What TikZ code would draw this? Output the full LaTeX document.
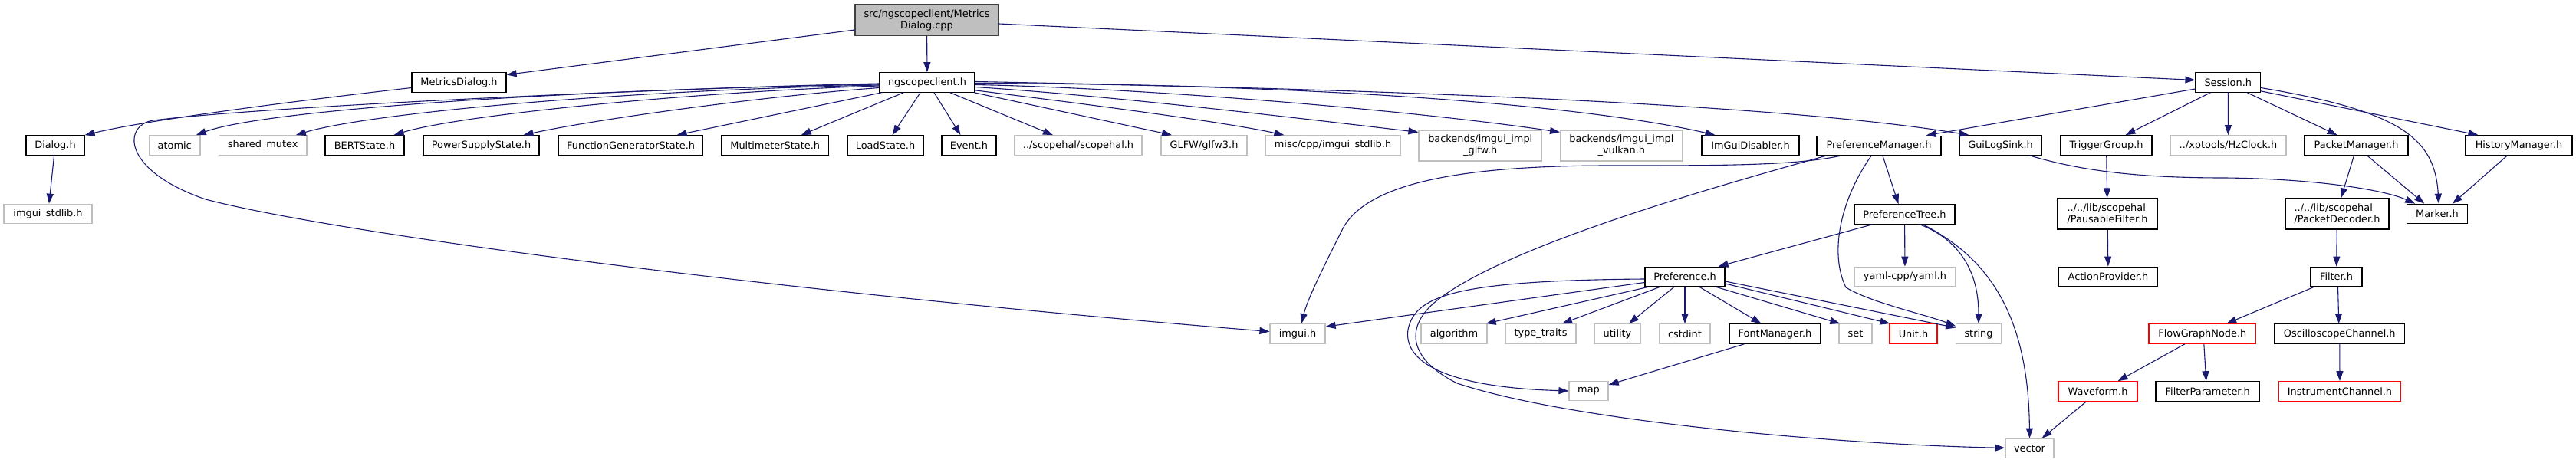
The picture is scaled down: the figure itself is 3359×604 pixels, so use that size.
\documentclass[tikz,border=0pt]{standalone}
\usepackage{fontspec}
\setmainfont{DejaVu Sans}
\usetikzlibrary{arrows.meta,calc}
\definecolor{navy}{RGB}{25,25,112}
\definecolor{grey75}{RGB}{191,191,191}
\definecolor{rootborder}{RGB}{64,64,64}
\newcommand\nodefont{\fontsize{12.9}{15}\selectfont}
\tikzset{
  box/.style={draw, line width=1.2pt, inner sep=0pt, minimum height=25.5pt, align=center, font=\nodefont, fill=white},
  docnode/.style={box, draw=black},
  extnode/.style={box, draw=grey75},
  truncnode/.style={box, draw=red},
  rootnode/.style={box, draw=rootborder, fill=grey75},
  dep/.style={draw=navy, line width=1.1pt, -{Triangle[length=13pt,width=9pt]}},
}
\begin{document}
\begin{tikzpicture}[x=1pt,y=-1pt]
\fill[white] (0,0) rectangle (3359,604);
\useasboundingbox (0,0) rectangle (3359,604);

% ---------- nodes ----------
\node[rootnode, minimum width=187pt, minimum height=40.5pt] (root) at (1208.5,26) {src/ngscopeclient/Metrics\\Dialog.cpp};
\node[docnode, minimum width=123pt] (mdlg) at (598.5,107.5) {MetricsDialog.h};
\node[docnode, minimum width=124pt] (ngc) at (1209,107.5) {ngscopeclient.h};
\node[docnode, minimum width=84.5pt] (sess) at (2905.25,107.5) {Session.h};

\node[docnode, minimum width=76pt] (dlg) at (72,189.5) {Dialog.h};
\node[extnode, minimum width=66.5pt] (atomic) at (227.75,189.5) {atomic};
\node[extnode, minimum width=114.5pt] (smutex) at (342.75,189.5) {shared\_mutex};
\node[docnode, minimum width=103pt] (bert) at (475.5,189.5) {BERTState.h};
\node[docnode, minimum width=151pt] (psu) at (627.5,189.5) {PowerSupplyState.h};
\node[docnode, minimum width=188pt] (fgen) at (822.6,189.5) {FunctionGeneratorState.h};
\node[docnode, minimum width=139.5pt] (mm) at (1010.75,189.5) {MultimeterState.h};
\node[docnode, minimum width=99pt] (load) at (1154.5,189.5) {LoadState.h};
\node[docnode, minimum width=71pt] (event) at (1263.5,189.5) {Event.h};
\node[extnode, minimum width=166pt] (scopehal) at (1406,189.5) {../scopehal/scopehal.h};
\node[extnode, minimum width=112pt] (glfw) at (1570,189.5) {GLFW/glfw3.h};
\node[extnode, minimum width=176pt] (imstd) at (1738,189.5) {misc/cpp/imgui\_stdlib.h};
\node[extnode, minimum width=160.5pt, minimum height=40pt] (bglfw) at (1930.25,190) {backends/imgui\_impl\\\_glfw.h};
\node[extnode, minimum width=159.4pt, minimum height=40pt] (bvk) at (2114.3,190) {backends/imgui\_impl\\\_vulkan.h};
\node[docnode, minimum width=127pt] (imdis) at (2282.5,189.5) {ImGuiDisabler.h};
\node[docnode, minimum width=162pt] (pm) at (2450,190) {PreferenceManager.h};
\node[docnode, minimum width=107pt] (gls) at (2608.5,189.5) {GuiLogSink.h};
\node[docnode, minimum width=119pt] (trig) at (2746.5,189.5) {TriggerGroup.h};
\node[extnode, minimum width=151pt] (hz) at (2905.5,189.5) {../xptools/HzClock.h};
\node[docnode, minimum width=135pt] (pkm) at (3072.5,189.5) {PacketManager.h};
\node[docnode, minimum width=139pt] (hist) at (3284.5,189.5) {HistoryManager.h};

\node[extnode, minimum width=115pt] (imstd2) at (62.5,279) {imgui\_stdlib.h};
\node[docnode, minimum width=131pt] (ptree) at (2483.5,279.5) {PreferenceTree.h};
\node[docnode, minimum width=130pt, minimum height=40pt, align=left] (pausable) at (2748,279) {../../lib/scopehal\\/PausableFilter.h};
\node[docnode, minimum width=135pt, minimum height=40pt, align=left] (pdec) at (3047.5,279) {../../lib/scopehal\\/PacketDecoder.h};
\node[docnode, minimum width=78.5pt] (marker) at (3178,279) {Marker.h};

\node[docnode, minimum width=104pt] (pref) at (2197,361) {Preference.h};
\node[extnode, minimum width=132pt] (yaml) at (2484,361) {yaml-cpp/yaml.h};
\node[docnode, minimum width=129.5pt] (actp) at (2749,361) {ActionProvider.h};
\node[docnode, minimum width=67pt] (filter) at (3046.5,361) {Filter.h};

\node[extnode, minimum width=72pt] (imgui) at (1692,435.5) {imgui.h};
\node[extnode, minimum width=86pt] (algo) at (1896,435.5) {algorithm};
\node[extnode, minimum width=92pt] (tt) at (2009,435.5) {type\_traits};
\node[extnode, minimum width=60pt] (util) at (2109,435.5) {utility};
\node[extnode, minimum width=66pt] (cstd) at (2197,435.5) {cstdint};
\node[docnode, minimum width=119pt] (font) at (2314.5,435.5) {FontManager.h};
\node[extnode, minimum width=43pt] (set) at (2419.5,435.5) {set};
\node[truncnode, minimum width=62pt] (unit) at (2495,435.5) {Unit.h};
\node[extnode, minimum width=58.5pt] (string) at (2580,435.5) {string};
\node[truncnode, minimum width=139.6pt] (fgn) at (2871.8,435.5) {FlowGraphNode.h};
\node[docnode, minimum width=169.5pt] (osc) at (3050.75,435.5) {OscilloscopeChannel.h};

\node[extnode, minimum width=51pt] (map) at (2071.5,510) {map};
\node[truncnode, minimum width=103pt] (wave) at (2735.5,510.5) {Waveform.h};
\node[docnode, minimum width=135.5pt] (fparam) at (2878.75,510.5) {FilterParameter.h};
\node[truncnode, minimum width=159pt] (ichan) at (3051,510.5) {InstrumentChannel.h};

\node[extnode, minimum width=63pt] (vector) at (2646.5,585) {vector};

% ---------- edges ----------
% root
\draw[dep] (root) -- (ngc);
\draw[dep] ($(root.west)+(0,13)$) -- ($(mdlg.east)+(0,-10)$);
\draw[dep] ($(root.east)+(0,5)$) -- ($(sess.west)+(0,-3)$);

% MetricsDialog / Dialog
\draw[dep] ($(mdlg.west)+(0,7)$) .. controls (400,130) and (200,155) .. (dlg.north east);
\draw[dep] (dlg) -- (imstd2);

% ngscopeclient.h, left fan
\draw[dep] ($(ngc.west)+(0,1.5)$) .. controls (900,114) and (350,138) .. (200,157)
  .. controls (160,163) and (158,222) .. (268,260)
  .. controls (420,300) and (950,375) .. (imgui);
\draw[dep] ($(ngc.west)+(0,2.5)$) .. controls (700,118) and (340,145) .. ($(atomic.north)+(28,0)$);
\draw[dep] ($(ngc.west)+(0,3.5)$) .. controls (800,118) and (480,148) .. ($(smutex.north)+(43,0)$);
\draw[dep] ($(ngc.west)+(0,4.5)$) .. controls (900,120) and (600,150) .. ($(bert.north)+(38,0)$);
\draw[dep] ($(ngc.west)+(0,7)$) .. controls (1000,125) and (780,155) .. ($(psu.north)+(55,0)$);
\draw[dep] ($(ngc.south west)+(3,0)$) -- ($(fgen.north)+(60,0)$);
\draw[dep] ($(ngc.south)+(-31,0)$) -- ($(mm.north)+(34,0)$);
\draw[dep] ($(ngc.south)+(-9,0)$) -- ($(load.north)+(9,0)$);
\draw[dep] ($(ngc.south)+(9,0)$) -- ($(event.north)+(-11,0)$);
\draw[dep] ($(ngc.south)+(30,0)$) -- ($(scopehal.north)+(-33,0)$);
% ngscopeclient.h, right fan
\draw[dep] ($(ngc.south east)+(-1,0)$) -- ($(glfw.north)+(-42,0)$);
\draw[dep] ($(ngc.south east)+(0,-3)$) .. controls (1450,140) and (1600,160) .. ($(imstd.north west)+(25,0)$);
\draw[dep] ($(ngc.east)+(0,6)$) .. controls (1450,125) and (1700,155) .. ($(bglfw.north west)+(0,3)$);
\draw[dep] ($(ngc.east)+(0,3)$) .. controls (1500,115) and (1850,145) .. ($(bvk.north west)+(0,3)$);
\draw[dep] ($(ngc.east)+(0,1)$) .. controls (1750,110) and (2080,140) .. ($(imdis.north west)+(18,0)$);
\draw[dep] ($(ngc.east)+(0,-1)$) .. controls (1900,118) and (2350,140) .. ($(gls.north west)+(13,0)$);

% Session.h
\draw[dep] ($(sess.west)+(0,8.5)$) -- ($(pm.north east)+(-20,0)$);
\draw[dep] ($(sess.south)+(-23,0)$) -- ($(trig.north)+(25,0)$);
\draw[dep] (sess) -- (hz);
\draw[dep] ($(sess.south)+(25,0)$) -- ($(pkm.north)+(-25,0)$);
\draw[dep] ($(sess.south east)+(0,-2)$) -- ($(hist.north west)+(17,0)$);
\draw[dep] ($(sess.east)+(0,7)$) .. controls (3130,145) and (3175,180) .. ($(marker.north)+(2,0)$);

% GuiLogSink.h
\draw[dep] ($(gls.south)+(38,0)$) .. controls (2720,225) and (2800,232) .. (2900,232)
  .. controls (3020,233) and (3110,248) .. ($(marker.north west)+(11,0)$);

% right side chain
\draw[dep] (trig) -- (pausable);
\draw[dep] (pausable) -- (actp);
\draw[dep] ($(pkm.south)+(-3,0)$) -- ($(pdec.north)+(5,0)$);
\draw[dep] ($(pkm.south)+(14,0)$) -- ($(marker.north west)+(23,0)$);
\draw[dep] ($(hist.south west)+(55,0)$) -- ($(marker.north)+(20,0)$);
\draw[dep] (pdec) -- (filter);
\draw[dep] ($(filter.south west)+(5,0)$) -- ($(fgn.north east)+(-39,0)$);
\draw[dep] ($(filter.south)+(2,0)$) -- ($(osc.north)+(-1,0)$);
\draw[dep] ($(fgn.south)+(-23,0)$) -- ($(wave.north east)+(-26,0)$);
\draw[dep] ($(fgn.south)+(2,0)$) -- ($(fparam.north)+(-2,0)$);
\draw[dep] (osc) -- (ichan);
\draw[dep] ($(wave.south west)+(37,0)$) -- ($(vector.north east)+(-16,0)$);

% PreferenceManager.h
\draw[dep] ($(pm.south)+(5,0)$) -- ($(ptree.north)+(-8,0)$);
\draw[dep] ($(pm.south west)+(31,0)$) .. controls (2340,216) and (2250,216) .. (2100,216)
  .. controls (1900,216) and (1780,240) .. (1750,300)
  .. controls (1725,350) and (1705,390) .. ($(imgui.north)+(5,0)$);
\draw[dep] ($(pm.south west)+(12,0)$) .. controls (2250,240) and (1960,320) .. (1870,395)
  .. controls (1830,430) and (1840,470) .. (1900,500)
  .. controls (2050,550) and (2400,580) .. (vector);
\draw[dep] ($(pm.south)+(-10,0)$) .. controls (2400,260) and (2385,330) .. (2407,375)
  .. controls (2440,395) and (2510,410) .. ($(string.west)+(0,-10)$);

% PreferenceTree.h
\draw[dep] ($(ptree.south west)+(24,0)$) -- ($(pref.north east)+(-9,0)$);
\draw[dep] (ptree) -- (yaml);
\draw[dep] ($(ptree.south)+(20,0)$) .. controls (2560,315) and (2580,360) .. (string.north);
\draw[dep] ($(ptree.south)+(24,0)$) .. controls (2600,340) and (2645,420) .. (vector.north);

% Preference.h
\draw[dep] ($(pref.west)+(0,3)$) .. controls (1900,366) and (1845,385) .. (1836,430)
  .. controls (1830,470) and (1880,505) .. (map.west);
\draw[dep] ($(pref.west)+(0,7.5)$) -- ($(imgui.north east)+(0,4)$);
\draw[dep] ($(pref.south west)+(5,0)$) -- ($(algo.north east)+(-2,0)$);
\draw[dep] ($(pref.south west)+(20,0)$) -- ($(tt.north)+(28,0)$);
\draw[dep] ($(pref.south)+(-14,0)$) -- ($(util.north)+(15,0)$);
\draw[dep] (pref) -- (cstd);
\draw[dep] ($(pref.south)+(19,0)$) -- ($(font.north)+(-18,0)$);
\draw[dep] ($(pref.south east)+(-12,0)$) -- ($(set.north west)+(2,0)$);
\draw[dep] ($(pref.east)+(0,9)$) -- ($(unit.north west)+(1,0)$);
\draw[dep] ($(pref.east)+(0,6)$) -- ($(string.west)+(0,-8)$);

% FontManager.h
\draw[dep] ($(font.south west)+(20,0)$) -- ($(map.east)+(0,-8)$);
\end{tikzpicture}
\end{document}
